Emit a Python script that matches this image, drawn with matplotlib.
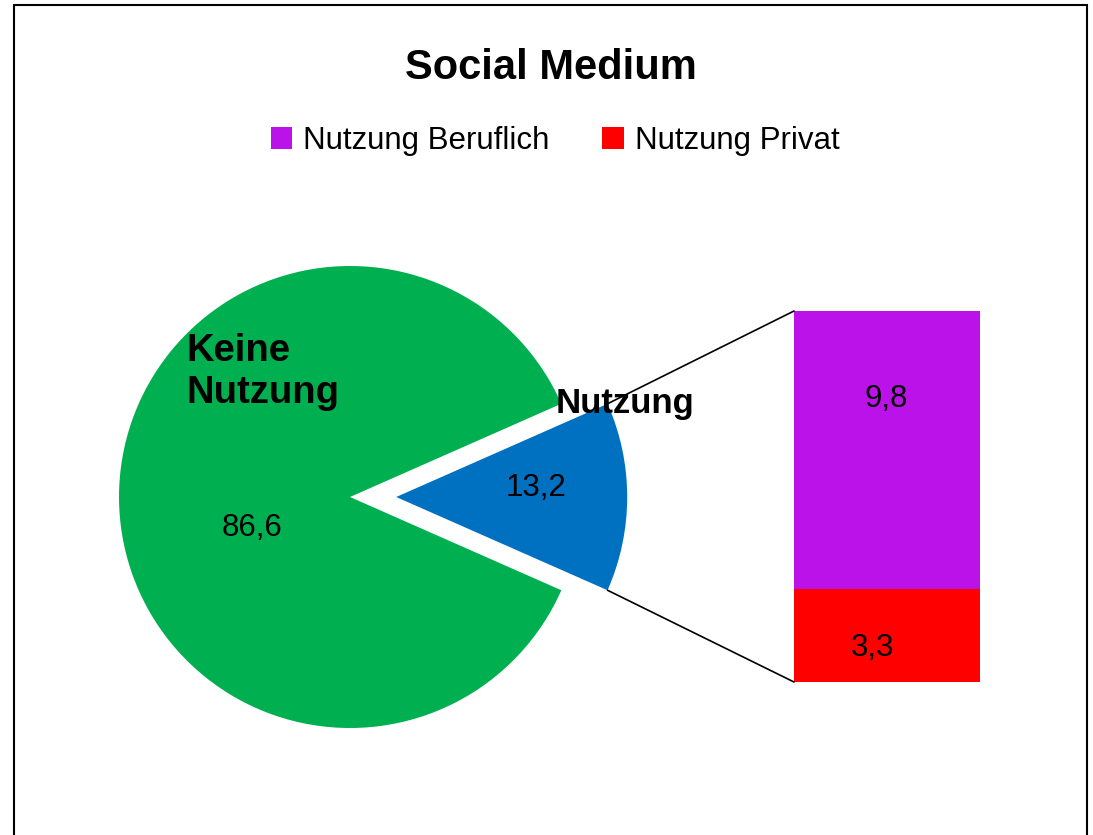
import matplotlib
matplotlib.use('Agg')
import matplotlib.pyplot as plt
import numpy as np
from matplotlib.patches import Patch, Rectangle, ConnectionPatch

# data
pie_labels = ['Keine\nNutzung', 'Nutzung']
pie_values = [86.6, 13.2]
pie_colors = ['#00B050', '#0070C0']

bar_labels = ['Nutzung Beruflich', 'Nutzung Privat']
bar_values = [9.8, 3.3]
bar_colors = ['#BA12E9', '#FF0000']

title = 'Social Medium'

W, H = 1093, 835
FAMILY = ['Liberation Sans', 'DejaVu Sans']

plt.rcParams['font.family'] = FAMILY


def fig_box(left, top, width, height):
    '''Convert a pixel box (top-left origin) to figure fractions.'''
    return [left / W, 1 - (top + height) / H, width / W, height / H]


def fmt(v):
    return f'{v:.1f}'.replace('.', ',')


fig = plt.figure(figsize=(W / 100, H / 100), dpi=100)
fig.patch.set_facecolor('white')

# pie: centre at (350, 497) px, radius ~231 px, axes spans +-1.3 radii
r_px = 231
lim = 1.3
ax_pie = fig.add_axes(fig_box(350 - lim * r_px, 497 - lim * r_px, 2 * lim * r_px, 2 * lim * r_px))
frac_small = pie_values[1] / sum(pie_values)
start = 360 * frac_small / 2
wedges, _ = ax_pie.pie(pie_values, colors=pie_colors, startangle=start,
                       explode=[0, 0.2], counterclock=True,
                       wedgeprops={'linewidth': 0})
ax_pie.set_xlim(-lim, lim)
ax_pie.set_ylim(-lim, lim)
ax_pie.set_aspect('equal')
ax_pie.axis('off')

# value labels on the pie
ax_pie.text(-0.426, -0.169, fmt(pie_values[0]), ha='center', va='baseline', fontsize=22.5)
ax_pie.text(0.805, 0.004, fmt(pie_values[1]), ha='center', va='baseline', fontsize=22.5)
# category labels
ax_pie.text(-0.706, 0.407, pie_labels[0], ha='left', va='baseline', fontsize=27.5,
            fontweight='bold', linespacing=1.2)
ax_pie.text(1.19, 0.364, pie_labels[1], ha='center', va='baseline', fontsize=25,
            fontweight='bold')

# stacked bar: 794..980 px wide, 311..682 px tall
ax_bar = fig.add_axes(fig_box(794, 311, 186, 371))
total = sum(bar_values)
bottom = 0
for lbl, val, col in zip(bar_labels[::-1], bar_values[::-1], bar_colors[::-1]):
    ax_bar.bar(0, val, bottom=bottom, width=1, color=col, linewidth=0, label=lbl)
    bottom += val
ax_bar.set_xlim(-0.5, 0.5)
ax_bar.set_ylim(0, total)
ax_bar.axis('off')
ax_bar.text(-0.005, 9.71, fmt(bar_values[0]), ha='center', va='baseline', fontsize=22.5)
ax_bar.text(-0.08, 0.92, fmt(bar_values[1]), ha='center', va='baseline', fontsize=22.5)

# connector lines from the exploded wedge to the bar corners
w = wedges[1]
cx, cy = w.center
for ang, ybar in [(w.theta2, total), (w.theta1, 0)]:
    px = cx + w.r * np.cos(np.radians(ang))
    py = cy + w.r * np.sin(np.radians(ang))
    con = ConnectionPatch(xyA=(px, py), coordsA=ax_pie.transData,
                          xyB=(-0.5, ybar), coordsB=ax_bar.transData,
                          color='black', linewidth=1.2)
    fig.add_artist(con)

# title and legend
fig.text(551 / W, 1 - 79 / H, title, ha='center', va='baseline', fontsize=30,
         fontweight='bold')
handles = [Patch(facecolor=c, edgecolor='none') for c in bar_colors]
fig.legend(handles, bar_labels, loc='center', bbox_to_anchor=(555 / W, 1 - 141 / H),
           ncol=2, frameon=False, handlelength=0.68, handleheight=0.68,
           handletextpad=0.35, columnspacing=1.7, fontsize=22.5)

# outer chart border (bottom edge is cut off)
fig.patches.append(Rectangle((14 / W, -0.02), (1087 - 14) / W, 1.02 - 5 / H,
                             transform=fig.transFigure, fill=False,
                             edgecolor='black', linewidth=1.5))

fig.savefig('out.png', dpi=100)
